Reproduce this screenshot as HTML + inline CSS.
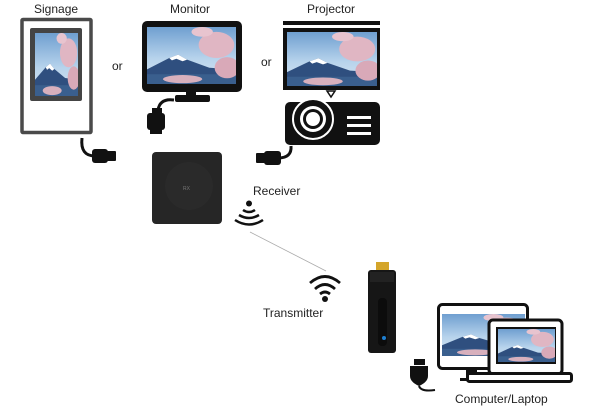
<!DOCTYPE html>
<html><head><style>
html,body{margin:0;padding:0;background:#fff;}
svg{display:block;}
text{font-family:"Liberation Sans",sans-serif;fill:#222;}
</style></head><body>
<svg width="608" height="407" viewBox="0 0 608 407" xmlns="http://www.w3.org/2000/svg">
<defs>
<linearGradient id="sky" x1="0" y1="0" x2="0" y2="1">
<stop offset="0" stop-color="#6f9fd0"/><stop offset="0.55" stop-color="#b7d3ec"/><stop offset="1" stop-color="#d8e6f2"/>
</linearGradient>
<symbol id="photo" viewBox="0 0 100 70" preserveAspectRatio="none">
<rect width="100" height="70" fill="url(#sky)"/>
<polygon points="0,52 25,38 35,34 45,40 70,50 100,52 100,70 0,70" fill="#2f4f7f"/>
<polygon points="25,38 35,34 45,40 40,42 33,39 28,41" fill="#fff"/>
<rect y="58" width="100" height="12" fill="#3a5f8e"/>
<ellipse cx="78" cy="22" rx="20" ry="16" fill="#e0b6c3"/>
<ellipse cx="90" cy="50" rx="14" ry="13" fill="#d9a9b8"/>
<ellipse cx="62" cy="6" rx="12" ry="6" fill="#e8c4cf"/>
<ellipse cx="40" cy="64" rx="22" ry="5" fill="#d8b0bd"/>
</symbol>
</defs>

<text x="34" y="13" font-size="12">Signage</text>
<text x="170" y="13" font-size="12">Monitor</text>
<text x="307" y="13" font-size="12">Projector</text>
<text x="112" y="70" font-size="12">or</text>
<text x="261" y="66" font-size="12">or</text>
<text x="253" y="195" font-size="12">Receiver</text>
<text x="263" y="317" font-size="12">Transmitter</text>
<text x="455" y="403" font-size="12">Computer/Laptop</text>

<rect x="22" y="19.5" width="69" height="113" fill="#fff" stroke="#4a4a4a" stroke-width="3.5" rx="1"/>
<rect x="30" y="28" width="52" height="73" fill="#444" rx="2"/>
<use href="#photo" x="35" y="33" width="43" height="63"/>

<rect x="142" y="21" width="100" height="71" rx="5" fill="#111"/>
<use href="#photo" x="147" y="27" width="89" height="57"/>
<rect x="186" y="92" width="10" height="5" fill="#111"/>
<rect x="175" y="95" width="35" height="7" rx="2" fill="#111"/>
<path d="M174 100 Q160 98 158 110" stroke="#111" stroke-width="3" fill="none"/>
<rect x="152" y="108" width="10" height="6" fill="#111"/>
<rect x="147" y="113" width="18" height="17" rx="3" fill="#111"/>
<rect x="150" y="129" width="12" height="5" fill="#111"/>

<rect x="283" y="21" width="97" height="4" fill="#111"/>
<rect x="283" y="28" width="97" height="62" fill="#111"/>
<use href="#photo" x="287" y="32" width="90" height="54"/>
<polygon points="327,91 335,91 331,97" fill="#fff" stroke="#111" stroke-width="1.5"/>
<rect x="285" y="102" width="95" height="43" rx="5" fill="#111"/>
<circle cx="313" cy="119" r="20" fill="#111" stroke="#fff" stroke-width="2"/>
<circle cx="313" cy="119" r="13" fill="#fff"/>
<circle cx="313" cy="119" r="10" fill="#111"/>
<circle cx="313" cy="119" r="7" fill="#fff"/>
<rect x="347" y="116" width="24" height="3" fill="#fff"/>
<rect x="347" y="124" width="24" height="3" fill="#fff"/>
<rect x="347" y="132" width="24" height="3" fill="#fff"/>

<path d="M82 138 Q80 156 95 156" stroke="#111" stroke-width="3" fill="none"/>
<rect x="92" y="149" width="16" height="14" rx="3" fill="#111"/>
<rect x="107" y="151" width="9" height="10" rx="1" fill="#111"/>

<path d="M291 146 Q292 158 278 158" stroke="#111" stroke-width="3" fill="none"/>
<rect x="264" y="151" width="17" height="14" rx="3" fill="#111"/>
<rect x="256" y="153" width="9" height="10" rx="1" fill="#111"/>

<rect x="152" y="152" width="70" height="72" rx="4" fill="#262626"/>
<circle cx="189" cy="186" r="24" fill="#2a2a2a"/>
<text x="183" y="190" font-size="5" style="fill:#777">RX</text>

<circle cx="249" cy="203.5" r="3" fill="#111"/>
<path d="M243 210 Q249 214 255 210" stroke="#111" stroke-width="2.5" fill="none"/>
<path d="M239 215 Q249 221 259 215" stroke="#111" stroke-width="2.5" fill="none"/>
<path d="M235 220 Q249 229 263 220" stroke="#111" stroke-width="2.5" fill="none"/>

<line x1="250" y1="232" x2="326" y2="271" stroke="#aaa" stroke-width="0.8"/>

<path d="M310 283 Q325 270 340 283" stroke="#111" stroke-width="2.8" fill="none"/>
<path d="M315 289 Q325 280 335 289" stroke="#111" stroke-width="2.8" fill="none"/>
<path d="M320 294 Q325 290 330 294" stroke="#111" stroke-width="2.8" fill="none"/>
<circle cx="325" cy="299" r="3" fill="#111"/>

<rect x="376" y="262" width="13" height="11" fill="#d4a52a"/>
<rect x="368" y="270" width="28" height="83" rx="3" fill="#161616"/>
<rect x="370" y="272" width="24" height="10" fill="#222"/>
<rect x="378" y="298" width="9" height="48" rx="4" fill="#0c0c0c"/>
<circle cx="384" cy="338" r="2" fill="#1e7fd0"/>

<rect x="414" y="359" width="11" height="6" fill="#111"/>
<path d="M410 366 h18 v10 q0 6 -9 10 q-9 -4 -9 -10 z" fill="#111"/>
<path d="M419 386 Q421 392 435 390" stroke="#111" stroke-width="2" fill="none"/>

<rect x="438.5" y="304.5" width="89" height="64" rx="4" fill="#fff" stroke="#111" stroke-width="3"/>
<use href="#photo" x="442" y="314" width="83" height="42"/>
<rect x="466" y="368" width="11" height="12" fill="#111"/>
<rect x="460" y="378" width="24" height="3" fill="#111"/>

<rect x="489" y="320" width="73" height="54" rx="4" fill="#fff" stroke="#111" stroke-width="3"/>
<rect x="496" y="327" width="60" height="37" fill="#111"/>
<use href="#photo" x="498" y="329" width="57" height="33"/>
<rect x="467.5" y="373.5" width="104" height="8" rx="2" fill="#fff" stroke="#111" stroke-width="3"/>
</svg>
</body></html>
